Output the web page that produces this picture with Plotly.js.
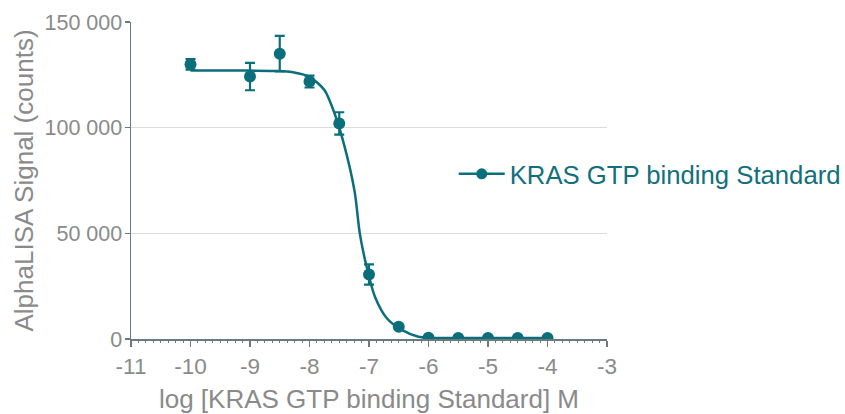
<!DOCTYPE html>
<html>
<head>
<meta charset="utf-8">
<script src="https://cdn.plot.ly/plotly-3.0.1.min.js"></script>
<style>
  html, body { margin: 0; padding: 0; background: #ffffff; }
  #chart { width: 845px; height: 414px; }
</style>
</head>
<body>
<div id="chart"></div>
<script>
// Measured data points (log M concentration, AlphaLISA counts, SD)
const logConc = [-10, -9, -8.5, -8, -7.5, -7, -6.5, -6, -5.5, -5, -4.5, -4];
const signal  = [130000, 124200, 135000, 121800, 102000, 30500, 5800, 600, 500, 500, 500, 500];
const sdev    = [2500, 6500, 8400, 2800, 5300, 4800, 0, 0, 0, 0, 0, 0];

// Fitted curve
const fitX = [-10, -9, -8.5, -8.3, -8, -7.75, -7.58, -7.41, -7.24, -7.155, -7.04, -6.9, -6.7, -6.45, -6.17, -6, -5, -4];
const fitY = [127000, 127000, 126800, 126300, 124000, 117800, 106800, 91000, 69500, 50000, 34200, 20000, 9800, 4300, 1100, 600, 500, 500];

// Axis ticks
const xTicks = [-11, -10, -9, -8, -7, -6, -5, -4, -3];
const yTicks = [0, 50000, 100000, 150000];
const yTickText = ['0', '50 000', '100 000', '150 000'];
const gridTicks = [50000, 100000];

const seriesName = 'KRAS GTP binding Standard';
const teal = '#0b6e7b';
const axisCol = '#6a7b80';
const textCol = '#8a8a8a';
const fontFam = '"Liberation Sans", Arial, sans-serif';

const traces = [
  { x: [null], y: [null], type: 'scatter', mode: 'lines', yaxis: 'y2', showlegend: false, hoverinfo: 'skip' },
  {
    x: fitX, y: fitY, type: 'scatter', mode: 'lines',
    line: { color: teal, width: 2.5, shape: 'spline', smoothing: 0.8 },
    showlegend: false, hoverinfo: 'skip', yaxis: 'y'
  },
  {
    x: logConc, y: signal, type: 'scatter', mode: 'markers',
    marker: { color: teal, size: 12 },
    error_y: { type: 'data', array: sdev, visible: true, color: teal, thickness: 2.2, width: 5 },
    showlegend: false, yaxis: 'y'
  },
  {
    x: [null], y: [null], type: 'scatter', mode: 'lines+markers', name: seriesName,
    line: { color: teal, width: 2.5 },
    marker: { color: teal, size: 11 },
    showlegend: true, yaxis: 'y'
  }
];

const layout = {
  width: 845, height: 414,
  margin: { l: 131, r: 238, t: 22, b: 75, pad: 0, autoexpand: false },
  paper_bgcolor: '#ffffff', plot_bgcolor: '#ffffff',
  font: { family: fontFam, color: textCol, size: 22 },
  showlegend: true,
  legend: {
    x: 0.678, xanchor: 'left', y: 0.52, yanchor: 'middle',
    bgcolor: 'rgba(0,0,0,0)', borderwidth: 0,
    font: { family: fontFam, size: 25.7, color: '#11707c' },
    itemwidth: 46
  },
  xaxis: {
    range: [-11, -3], tickvals: xTicks, ticktext: xTicks.map(String),
    showgrid: false, zeroline: false, automargin: false,
    showline: true, linecolor: axisCol, linewidth: 1.5,
    ticks: 'outside', ticklen: 6, tickwidth: 1.5, tickcolor: axisCol,
    tickfont: { size: 22.5, color: textCol },
    minor: { dtick: 0.125, ticks: 'outside', ticklen: 2, tickwidth: 1, tickcolor: axisCol, showgrid: false },
    title: { text: 'log [KRAS GTP binding Standard] M', font: { size: 26, color: textCol }, standoff: 14 }
  },
  yaxis: {
    range: [0, 150000], tickvals: yTicks, ticktext: yTickText,
    showgrid: false, zeroline: false, automargin: false,
    showline: true, linecolor: axisCol, linewidth: 1.5,
    ticks: 'outside', ticklen: 5, tickwidth: 1.5, tickcolor: axisCol,
    ticklabelstandoff: -2,
    tickfont: { size: 21.5, color: textCol },
    title: { text: 'AlphaLISA Signal (counts)', font: { size: 26, color: textCol }, standoff: 3 }
  },
  yaxis2: {
    range: [0, 150000], overlaying: 'y', side: 'left', automargin: false,
    tickvals: gridTicks, showticklabels: false, ticks: '',
    showgrid: true, gridcolor: '#dcdcdc', gridwidth: 1.5,
    zeroline: false, showline: false
  }
};

Plotly.newPlot('chart', traces, layout, { displayModeBar: false, staticPlot: true });
</script>
</body>
</html>
